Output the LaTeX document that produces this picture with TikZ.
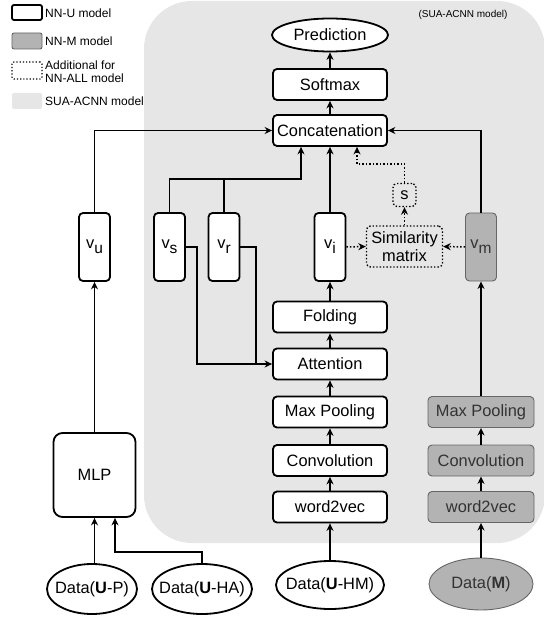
\documentclass[tikz,border=0pt]{standalone}
\usepackage{fontspec}
\setmainfont{Liberation Sans}
\usetikzlibrary{shapes.geometric,arrows.meta,calc}
\definecolor{regiongray}{HTML}{E6E6E6}
\definecolor{mfill}{HTML}{B3B3B3}
\definecolor{mdraw}{HTML}{666666}
\definecolor{mtext}{HTML}{333333}
\newcommand\mainfs{\fontsize{16.4}{19.5}\selectfont}
\newcommand\legfs{\fontsize{12}{13}\selectfont}
\newcommand\tinyfs{\fontsize{10}{12}\selectfont}
\newcommand\vsub[1]{v\raisebox{-5pt}{\fontsize{15.5}{15.5}\selectfont #1}}
\begin{document}
\begin{tikzpicture}[x=1pt,y=-1pt,
  ubox/.style={draw, line width=1.8pt, rounded corners=4pt, fill=white, minimum width=114pt, minimum height=31pt, inner sep=0pt, font=\mainfs},
  mbox/.style={draw=mdraw, line width=0.9pt, rounded corners=4pt, fill=mfill, text=mtext, minimum width=106pt, minimum height=31pt, inner sep=0pt, font=\mainfs},
  vbox/.style={ubox, minimum width=31pt, minimum height=68pt},
  dbox/.style={draw, dotted, line width=1.4pt, rounded corners=4pt, inner sep=0pt, font=\mainfs, align=center},
  uell/.style={draw, ellipse, line width=1.8pt, fill=white, inner sep=0pt},
  mell/.style={draw=mdraw, ellipse, line width=0.9pt, fill=mfill, inner sep=0pt},
  arr/.style={-{Stealth[length=7.5pt,width=7pt]}, line width=1.5pt},
  darr/.style={arr, dotted},
  ln/.style={line width=1.5pt},
  legtext/.style={anchor=west, font=\legfs, inner sep=0pt, align=left}
]
\useasboundingbox (0,0) rectangle (543,617);
% region
\fill[regiongray, rounded corners=48pt] (144,1) rectangle (545,543);
\node[font=\tinyfs] (regionlabel) at (463,15) {(SUA-ACNN model)};

% legend
\node[draw, line width=1.8pt, rounded corners=2pt, minimum width=30pt, minimum height=15pt, inner sep=0pt] (legu) at (27,12.5) {};
\node[legtext] (legutext) at (45,13) {NN-U model};
\node[draw=mdraw, line width=0.9pt, fill=mfill, rounded corners=2pt, minimum width=30pt, minimum height=16pt, inner sep=0pt] (legm) at (27,41) {};
\node[legtext] (legmtext) at (45,41) {NN-M model};
\node[draw, dotted, line width=1.2pt, rounded corners=2pt, minimum width=30pt, minimum height=17pt, inner sep=0pt] (legd) at (27,70.5) {};
\node[legtext] (legdtext) at (45,72) {Additional for\\NN-ALL model};
\node[fill=regiongray, rounded corners=2pt, minimum width=30pt, minimum height=16pt, inner sep=0pt] (legs) at (27,101) {};
\node[legtext] (legstext) at (45,101) {SUA-ACNN model};

% central column
\node[uell, minimum width=116pt, minimum height=33pt, label={[font=\mainfs]center:Prediction}] (pred) at (330,35) {};
\node[ubox] (soft) at (330,84.5) {Softmax};
\node[ubox] (concat) at (330,130.5) {Concatenation};
\node[vbox] (vi) at (330,247) {\vsub{i}};
\node[ubox] (fold) at (330,317) {Folding};
\node[ubox] (att) at (330,364) {Attention};
\node[ubox] (maxp) at (330,412) {Max Pooling};
\node[ubox] (conv) at (330,460.5) {Convolution};
\node[ubox] (w2v) at (330,507) {word2vec};
\node[uell, minimum width=108pt, minimum height=48pt, label={[font=\mainfs]center:Data(\textbf{U}-HM)}] (duhm) at (330,585) {};

% left vectors
\node[vbox] (vu) at (94.5,247) {\vsub{u}};
\node[vbox] (vs) at (169.5,247) {\vsub{s}};
\node[vbox] (vr) at (224,247) {\vsub{r}};

% MLP and data
\node[ubox, rounded corners=9pt, minimum width=82pt, minimum height=84pt] (mlp) at (94.5,475) {MLP};
\node[uell, minimum width=90pt, minimum height=50pt, label={[font=\mainfs]center:Data(\textbf{U}-P)}] (dup) at (92,589) {};
\node[uell, minimum width=100pt, minimum height=50pt, label={[font=\mainfs]center:Data(\textbf{U}-HA)}] (duha) at (202,589) {};

% dotted additional
\node[dbox, minimum width=76pt, minimum height=41pt] (sim) at (404.5,246.5) {Similarity\\[-1pt]matrix};
\node[dbox, minimum width=23pt, minimum height=23pt] (s) at (404.5,195) {s};

% gray column
\node[vbox, draw=mdraw, line width=0.9pt, fill=mfill, text=mtext] (vm) at (481,247) {\vsub{m}};
\node[mbox] (mmaxp) at (481,412) {Max Pooling};
\node[mbox] (mconv) at (481,460.5) {Convolution};
\node[mbox] (mw2v) at (481,507) {word2vec};
\node[mell, minimum width=104pt, minimum height=52pt, label={[font=\mainfs, text=mtext]center:Data(\textbf{M})}] (dm) at (481,584) {};

% coordinates
\coordinate (cj) at (301,179);
\coordinate (sd) at (357,164);
\coordinate (ja) at (197,364);
\coordinate (jb) at (256,364);
\coordinate (jm) at (115,552);

% connectors central
\draw[arr] (soft.north) -- (pred.south);
\draw[arr] (concat.north) -- (soft.south);
\draw[arr] (vi.north) -- (concat.south);
\draw[arr] (fold.north) -- (vi.south);
\draw[arr] (att.north) -- (fold.south);
\draw[arr] (maxp.north) -- (att.south);
\draw[arr] (conv.north) -- (maxp.south);
\draw[arr] (w2v.north) -- (conv.south);
\draw[arr] (duhm.north) -- (w2v.south);

% left
\draw[arr] (vu.north) |- (concat.west);
\draw[arr] (vs.north) |- (cj) -- (cj |- concat.south);
\draw[ln] (vr.north) -- (vr.north |- cj);
\draw[arr] (vs.east) -| (ja) -- (att.west);
\draw[ln] (vr.east) -| (jb);
\draw[arr] (mlp.north) -- (vu.south);
\draw[arr] (dup.north -| mlp.south) -- (mlp.south);
\draw[arr] (duha.north) |- (jm) -- (jm |- mlp.south);

% dotted
\draw[darr] (vi.east) -- (sim.west);
\draw[darr] (vm.west) -- (sim.east);
\draw[darr] (sim.north) -- (s.south);
\draw[darr] (s.north) |- (sd) -- (sd |- concat.south);

% gray column
\draw[arr] (vm.north) |- (concat.east);
\draw[arr] (mmaxp.north) -- (vm.south);
\draw[arr] (mconv.north) -- (mmaxp.south);
\draw[arr] (mw2v.north) -- (mconv.south);
\draw[arr] (dm.north) -- (mw2v.south);
\end{tikzpicture}
\end{document}
